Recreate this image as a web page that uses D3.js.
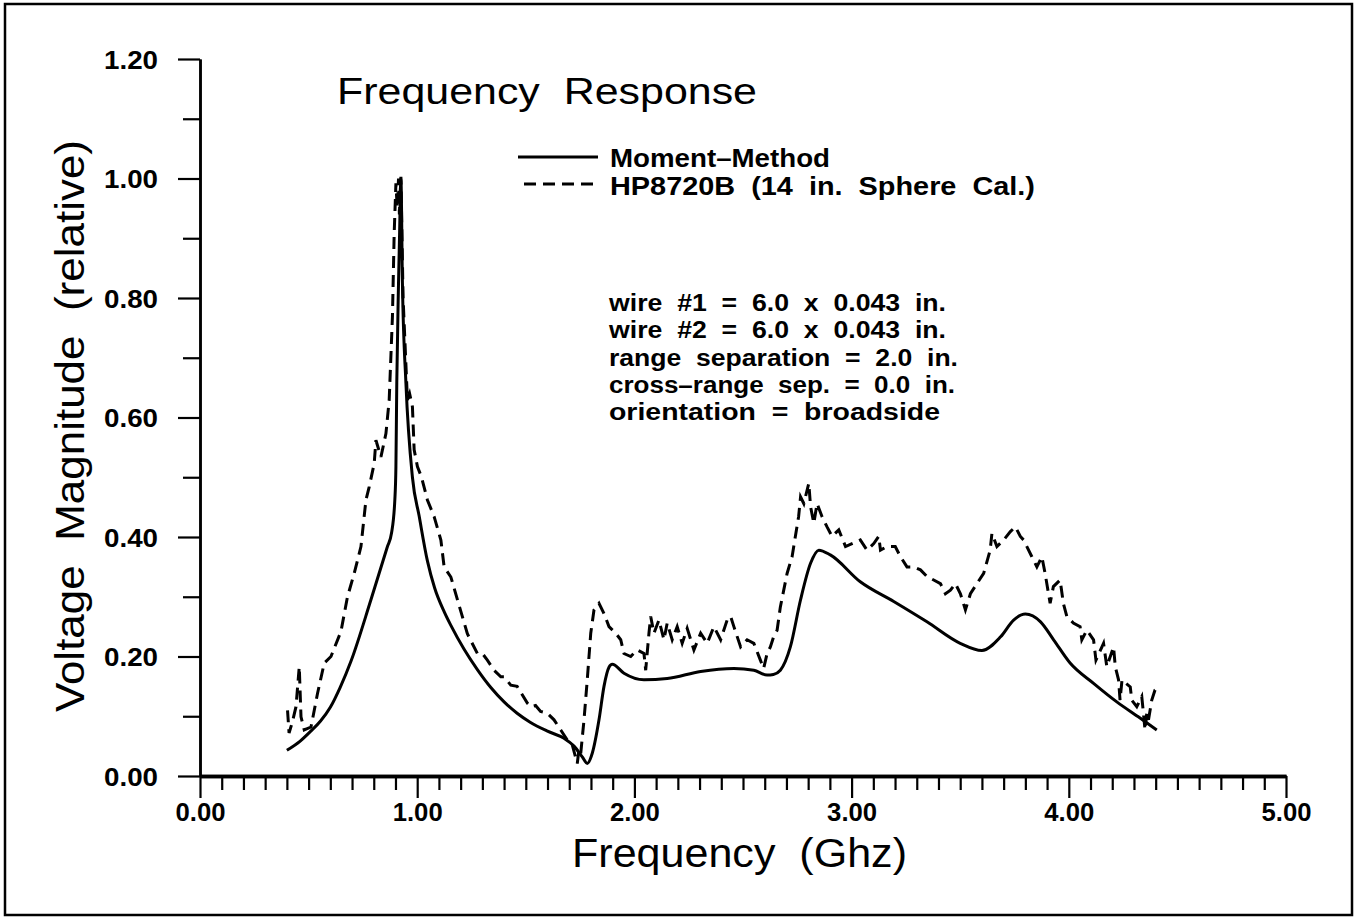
<!DOCTYPE html>
<html>
<head>
<meta charset="utf-8">
<script src="https://cdn.jsdelivr.net/npm/d3@7"></script>
<style>
  html, body { margin: 0; padding: 0; background: #fff; }
  svg { display: block; }
  text { font-family: "Liberation Sans", Arial, Helvetica, sans-serif; fill: #000; }
</style>
</head>
<body>
<svg id="chart" width="1356" height="918"></svg>
<script>
// ---------- data ----------
const chartTitle = "Frequency Response";
const xTitle = "Frequency  (Ghz)";
const yTitle = "Voltage  Magnitude  (relative)";
const legendLabels = ["Moment\u2013Method", "HP8720B  (14  in.  Sphere  Cal.)"];
const noteLines = [
  "wire  #1  =  6.0  x  0.043  in.",
  "wire  #2  =  6.0  x  0.043  in.",
  "range  separation  =  2.0  in.",
  "cross\u2013range  sep.  =  0.0  in.",
  "orientation  =  broadside"
];
const xMajorTicks = [0, 1, 2, 3, 4, 5];
const yMajorTicks = [0, 0.2, 0.4, 0.6, 0.8, 1.0, 1.2];
const xMinorTicks = d3.range(0, 50).map(i => i / 10).filter(v => Math.abs(v - Math.round(v)) > 1e-6);
const yMinorTicks = [0.1, 0.3, 0.5, 0.7, 0.9, 1.1];

// Moment-Method (solid)
const mmFreq = [0.40,0.46,0.51,0.555,0.60,0.645,0.695,0.787,0.863,0.882,0.897,0.902,0.906,0.914,0.919,0.925,0.932,0.948,0.978,1.009,1.047,1.08,1.124,1.155,1.216,1.277,1.339,1.40,1.46,1.52,1.60,1.676,1.722,1.76,1.783,1.806,1.837,1.86,1.883,1.898,1.952,2.044,2.151,2.305,2.458,2.55,2.611,2.64,2.672,2.718,2.765,2.811,2.849,2.902,3.04,3.194,3.347,3.50,3.60,3.686,3.746,3.80,3.87,3.93,4.006,4.114,4.221,4.328,4.405];
const mmMag  = [0.043,0.058,0.075,0.092,0.115,0.148,0.192,0.295,0.384,0.407,0.462,0.518,0.658,0.825,0.909,1.000,0.825,0.658,0.500,0.435,0.360,0.315,0.275,0.252,0.212,0.178,0.148,0.124,0.105,0.090,0.075,0.063,0.050,0.032,0.021,0.038,0.094,0.150,0.182,0.187,0.172,0.161,0.163,0.175,0.180,0.177,0.169,0.170,0.177,0.216,0.295,0.356,0.378,0.370,0.325,0.292,0.258,0.222,0.210,0.233,0.261,0.271,0.258,0.228,0.189,0.155,0.124,0.097,0.077];

// HP8720B measurement (dashed)
const hpFreq = [0.403,0.410,0.425,0.442,0.457,0.465,0.480,0.511,0.541,0.572,0.603,0.649,0.679,0.710,0.741,0.764,0.779,0.802,0.810,0.833,0.856,0.871,0.886,0.894,0.902,0.908,0.914,0.918,0.925,0.935,0.955,0.965,0.978,0.986,1.001,1.020,1.047,1.078,1.109,1.124,1.155,1.186,1.231,1.277,1.300,1.323,1.354,1.385,1.400,1.431,1.460,1.477,1.507,1.523,1.545,1.568,1.599,1.630,1.661,1.691,1.714,1.737,1.745,1.753,1.768,1.783,1.799,1.814,1.837,1.860,1.883,1.914,1.937,1.952,1.983,2.013,2.044,2.052,2.067,2.075,2.090,2.113,2.136,2.151,2.174,2.197,2.220,2.243,2.274,2.305,2.335,2.366,2.397,2.427,2.443,2.458,2.489,2.519,2.550,2.580,2.595,2.611,2.626,2.641,2.657,2.672,2.703,2.726,2.741,2.756,2.765,2.780,2.803,2.811,2.826,2.841,2.864,2.887,2.910,2.941,2.972,3.002,3.040,3.071,3.102,3.125,3.133,3.163,3.201,3.225,3.255,3.286,3.317,3.347,3.378,3.409,3.432,3.455,3.478,3.501,3.524,3.547,3.577,3.608,3.638,3.646,3.669,3.700,3.731,3.754,3.777,3.792,3.807,3.830,3.853,3.876,3.891,3.914,3.929,3.960,3.975,3.991,4.021,4.052,4.060,4.083,4.114,4.125,4.160,4.175,4.206,4.214,4.229,4.236,4.245,4.283,4.290,4.313,4.336,4.351,4.359,4.367,4.382,4.397,4.410];
const hpMag  = [0.110,0.072,0.090,0.116,0.183,0.099,0.077,0.082,0.138,0.189,0.200,0.242,0.300,0.339,0.384,0.462,0.484,0.523,0.562,0.534,0.573,0.629,0.769,0.908,0.992,0.950,1.000,0.940,1.003,0.800,0.629,0.640,0.618,0.546,0.518,0.500,0.462,0.434,0.395,0.350,0.333,0.294,0.238,0.205,0.205,0.194,0.177,0.166,0.166,0.152,0.150,0.140,0.122,0.116,0.118,0.108,0.105,0.094,0.077,0.060,0.052,0.021,0.045,0.038,0.094,0.161,0.239,0.278,0.289,0.272,0.250,0.239,0.228,0.205,0.200,0.211,0.205,0.177,0.239,0.267,0.239,0.261,0.228,0.256,0.228,0.250,0.222,0.247,0.211,0.239,0.222,0.250,0.228,0.261,0.267,0.250,0.216,0.228,0.222,0.194,0.180,0.205,0.216,0.233,0.244,0.283,0.339,0.367,0.401,0.434,0.467,0.456,0.490,0.451,0.423,0.456,0.434,0.417,0.401,0.412,0.384,0.389,0.395,0.378,0.389,0.401,0.378,0.384,0.384,0.367,0.350,0.350,0.345,0.334,0.328,0.322,0.305,0.311,0.322,0.305,0.278,0.305,0.322,0.339,0.378,0.406,0.384,0.395,0.409,0.417,0.401,0.395,0.384,0.367,0.350,0.367,0.339,0.289,0.317,0.328,0.289,0.267,0.256,0.250,0.228,0.244,0.228,0.194,0.222,0.183,0.216,0.183,0.161,0.127,0.161,0.149,0.127,0.116,0.133,0.077,0.105,0.094,0.127,0.144,0.148];

// ---------- drawing ----------
const svg = d3.select("#chart");
const plot = { left: 200, right: 1286, top: 59, bottom: 776 };

const x = d3.scaleLinear().domain([0, 5]).range([plot.left, plot.right]);
const y = d3.scaleLinear().domain([0, 1.2]).range([plot.bottom, plot.top]);

// outer frame
svg.append("rect")
  .attr("x", 5).attr("y", 4).attr("width", 1347).attr("height", 911)
  .attr("fill", "none").attr("stroke", "#000").attr("stroke-width", 2.5);

// x axis (minor + major)
const gxMinor = svg.append("g").attr("transform", `translate(0,${plot.bottom})`)
  .call(d3.axisBottom(x).tickValues(xMinorTicks).tickSize(14).tickSizeOuter(0).tickFormat(""));
const gx = svg.append("g").attr("transform", `translate(0,${plot.bottom})`)
  .call(d3.axisBottom(x).tickValues(xMajorTicks).tickSize(22).tickSizeOuter(0).tickFormat(d3.format(".2f")));
[gxMinor, gx].forEach(g => {
  g.select(".domain").attr("stroke", "#000").attr("stroke-width", 3.5);
  g.selectAll(".tick line").attr("stroke", "#000").attr("stroke-width", 2.2);
});
gx.selectAll(".tick text")
  .attr("y", 45).attr("dy", null)
  .attr("font-size", 25).attr("font-weight", "bold")
  .attr("textLength", 50).attr("lengthAdjust", "spacingAndGlyphs");

// y axis (minor + major)
const gyMinor = svg.append("g").attr("transform", `translate(${plot.left},0)`)
  .call(d3.axisLeft(y).tickValues(yMinorTicks).tickSize(17).tickSizeOuter(0).tickFormat(""));
const gy = svg.append("g").attr("transform", `translate(${plot.left},0)`)
  .call(d3.axisLeft(y).tickValues(yMajorTicks).tickSize(22).tickSizeOuter(0).tickFormat(d3.format(".2f")));
[gyMinor, gy].forEach(g => {
  g.select(".domain").attr("stroke", "#000").attr("stroke-width", 2.5);
  g.selectAll(".tick line").attr("stroke", "#000").attr("stroke-width", 2.2);
});
gy.selectAll(".tick text")
  .attr("x", -42).attr("dy", "0.36em")
  .attr("font-size", 25).attr("font-weight", "bold")
  .attr("textLength", 54).attr("lengthAdjust", "spacingAndGlyphs");
svg.selectAll(".tick text").attr("fill", "#000").attr("font-family", "'Liberation Sans', Arial, sans-serif");

// curves
const mmData = mmFreq.map((f, i) => [f, mmMag[i]]);
const hpData = hpFreq.map((f, i) => [f, hpMag[i]]);

svg.append("path")
  .datum(mmData)
  .attr("fill", "none").attr("stroke", "#000").attr("stroke-width", 3)
  .attr("stroke-linejoin", "round")
  .attr("d", d3.line().x(d => x(d[0])).y(d => y(d[1])).curve(d3.curveMonotoneX));

svg.append("path")
  .datum(hpData)
  .attr("fill", "none").attr("stroke", "#000").attr("stroke-width", 3)
  .attr("stroke-dasharray", "12,7")
  .attr("d", d3.line().x(d => x(d[0])).y(d => y(d[1])));

// title
svg.append("text")
  .attr("x", 337).attr("y", 104)
  .attr("font-size", 37)
  .attr("textLength", 420).attr("lengthAdjust", "spacingAndGlyphs")
  .style("white-space", "pre")
  .text(chartTitle.replace(" ", "  "));

// axis titles
svg.append("text")
  .attr("x", 572).attr("y", 867)
  .attr("font-size", 41)
  .attr("textLength", 335).attr("lengthAdjust", "spacingAndGlyphs")
  .style("white-space", "pre")
  .text(xTitle);

svg.append("text")
  .attr("transform", "translate(84,712) rotate(-90)")
  .attr("x", 0).attr("y", 0)
  .attr("font-size", 41)
  .attr("textLength", 572).attr("lengthAdjust", "spacingAndGlyphs")
  .style("white-space", "pre")
  .text(yTitle);

// legend
svg.append("line")
  .attr("x1", 518).attr("x2", 598).attr("y1", 157).attr("y2", 157)
  .attr("stroke", "#000").attr("stroke-width", 3);
svg.append("line")
  .attr("x1", 524).attr("x2", 598).attr("y1", 184).attr("y2", 184)
  .attr("stroke", "#000").attr("stroke-width", 3).attr("stroke-dasharray", "12,7");
svg.append("text")
  .attr("x", 610).attr("y", 167)
  .attr("font-size", 25).attr("font-weight", "bold")
  .attr("textLength", 220).attr("lengthAdjust", "spacingAndGlyphs")
  .text(legendLabels[0]);
svg.append("text")
  .attr("x", 610).attr("y", 195)
  .attr("font-size", 25).attr("font-weight", "bold")
  .attr("textLength", 425).attr("lengthAdjust", "spacingAndGlyphs")
  .style("white-space", "pre")
  .text(legendLabels[1]);

// annotation block
const noteWidths = [337, 337, 349, 346, 331];
svg.append("g").selectAll("text")
  .data(noteLines)
  .join("text")
  .attr("x", 609)
  .attr("y", (d, i) => 311 + i * 27.3)
  .attr("font-size", 23.5).attr("font-weight", "bold")
  .attr("textLength", (d, i) => noteWidths[i]).attr("lengthAdjust", "spacingAndGlyphs")
  .style("white-space", "pre")
  .text(d => d);
</script>
</body>
</html>
